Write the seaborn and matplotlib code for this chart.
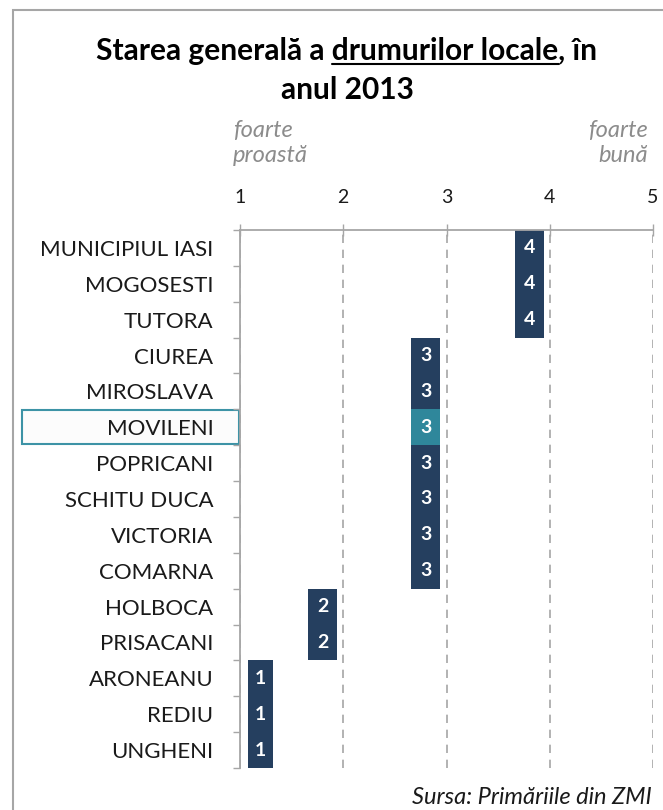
import numpy as np
import pandas as pd
import matplotlib
matplotlib.use("Agg")
import matplotlib.pyplot as plt
import matplotlib.transforms as mtransforms
from matplotlib.patches import Rectangle
from matplotlib.lines import Line2D
import seaborn as sns

# ===============================
# Data
# ===============================
localitati = ["MUNICIPIUL IASI", "MOGOSESTI", "TUTORA", "CIUREA", "MIROSLAVA",
              "MOVILENI", "POPRICANI", "SCHITU DUCA", "VICTORIA", "COMARNA",
              "HOLBOCA", "PRISACANI", "ARONEANU", "REDIU", "UNGHENI"]
scor = [4, 4, 4, 3, 3, 3, 3, 3, 3, 3, 2, 2, 1, 1, 1]
evidentiat = "MOVILENI"
scala = [1, 2, 3, 4, 5]

NAVY = "#253F5F"
TEAL = "#2F879B"
GRID = "#A6A6A6"
TXT = "#1A1A1A"

sns.set_theme(style="white")
plt.rcParams["font.family"] = ["Lato", "DejaVu Sans"]

df = pd.DataFrame({"localitate": localitati, "scor": scor})
# the box sits just left of its value; score 1 sits just right of the axis start
df["start"] = np.where(df["scor"] > 1, df["scor"] - 0.34, df["scor"] + 0.08)
df["latime"] = np.where(df["scor"] > 1, 0.28, 0.24)

W, H = 663, 810
fig = plt.figure(figsize=(W / 100, H / 100), dpi=100)
ax = fig.add_axes([240 / W, 42 / H, 413 / W, 538 / H])

sns.barplot(data=df, x="latime", y="localitate", left=df["start"].to_numpy(),
            color=NAVY, saturation=1, width=1.0, errorbar=None, orient="h",
            linewidth=0, ax=ax)

for patch, name in zip(ax.patches, localitati):
    if name == evidentiat:
        patch.set_facecolor(TEAL)

for i, row in df.iterrows():
    ax.text(row["start"] + row["latime"] / 2, i, str(row["scor"]),
            ha="center", va="center", color="white", fontsize=14,
            fontweight="bold")

# ===============================
# Axes styling
# ===============================
ax.set_xlim(1, 5)
ax.set_ylim(14.5, -0.5)
ax.set_xlabel("")
ax.set_ylabel("")
ax.xaxis.tick_top()
ax.set_xticks(scala)
ax.tick_params(axis="x", direction="inout", length=9, width=1, color=GRID,
               pad=13, labelsize=14, labelcolor=TXT)
ax.grid(axis="x", linestyle=(0, (5, 4)), color=GRID, linewidth=1.2)
ax.set_axisbelow(True)

ax.set_yticks(range(len(localitati)))
ax.set_yticklabels(localitati)
ax.set_yticks(np.arange(-0.5, len(localitati)), minor=True)
ax.tick_params(axis="y", which="major", length=0, pad=19, labelsize=16,
               labelcolor=TXT)
ax.tick_params(axis="y", which="minor", direction="out", length=5, width=1,
               color=GRID, left=True)

for s in ["right", "bottom"]:
    ax.spines[s].set_visible(False)
for s in ["top", "left"]:
    ax.spines[s].set_color(GRID)
    ax.spines[s].set_linewidth(1.3)

# highlight box around the selected label
trans = mtransforms.blended_transform_factory(fig.transFigure, ax.transData)
ax.add_patch(Rectangle((22 / W, 4.52), (239 - 22) / W, 0.94, transform=trans,
                       facecolor="#FCFCFC", edgecolor="#3D93A6", linewidth=1.5,
                       clip_on=False, zorder=0.5))

# ===============================
# Texts
# ===============================
fs_title = 21.5
cx = 347 / W
y1 = 1 - 60 / H
r = fig.canvas.get_renderer()


def width_px(s):
    t = fig.text(0, 0, s, fontsize=fs_title, fontweight="bold")
    w = t.get_window_extent(renderer=r).width
    t.remove()
    return w


line1 = "Starea generală a drumurilor locale, în"
fig.text(cx, y1, line1, ha="center", va="baseline", fontsize=fs_title,
         fontweight="bold", color="black")
total = width_px(line1)
end_u = width_px("Starea generală a drumurilor locale")
len_u = width_px("drumurilor locale")
x_left = 347 - total / 2
u0 = (x_left + end_u - len_u) / W
u1 = (x_left + end_u) / W
uy = 1 - 64 / H
fig.add_artist(Line2D([u0, u1], [uy, uy], transform=fig.transFigure,
                      color="black", linewidth=1.5))
fig.text(cx, 1 - 99 / H, "anul 2013", ha="center", va="baseline",
         fontsize=fs_title, fontweight="bold", color="black")

fig.text(233 / W, 1 - 143 / H, "foarte\nproastă", ha="left", va="center",
         fontsize=17, fontstyle="italic", color="#8C8C8C", linespacing=1.2)
fig.text(648 / W, 1 - 143 / H, "foarte\nbună", ha="right", va="center",
         fontsize=17, fontstyle="italic", color="#8C8C8C", linespacing=1.2,
         multialignment="right")

fig.text(652 / W, 1 - 797 / H, "Sursa: Primăriile din ZMI", ha="right",
         va="center", fontsize=17, fontstyle="italic", color=TXT)

# figure frame
fig.add_artist(Rectangle((13 / W, -0.1), 1.0, 1.1 - 10 / H,
                         transform=fig.transFigure, fill=False,
                         edgecolor="#A6A6A6", linewidth=1.5, clip_on=False))

fig.savefig("out.png", dpi=100, facecolor="white")
